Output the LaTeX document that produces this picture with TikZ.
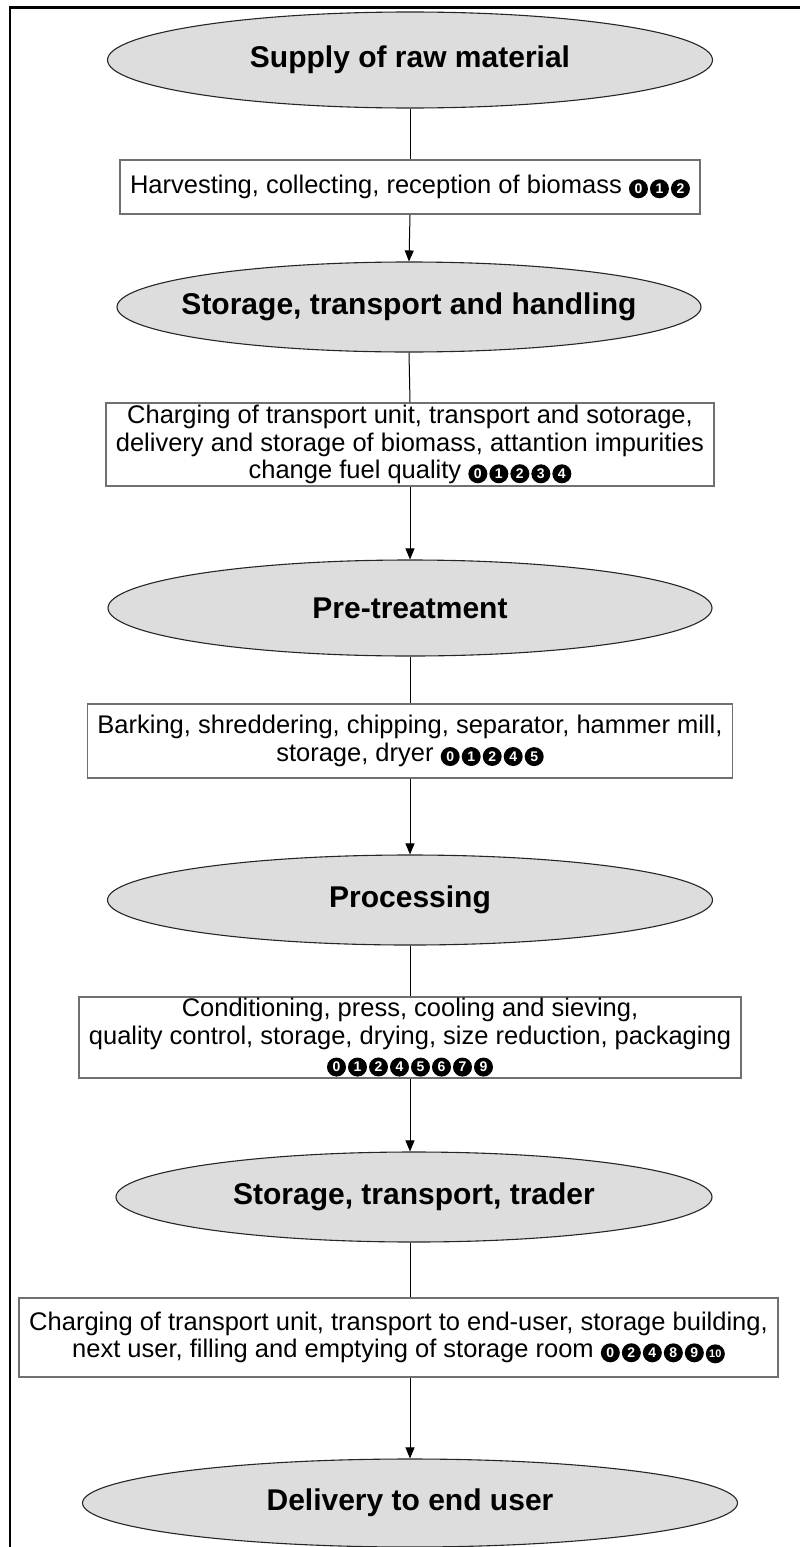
\documentclass[tikz,border=0pt]{standalone}
\usepackage{fontspec}
\setmainfont{Liberation Sans}
\usetikzlibrary{shapes.geometric,arrows.meta}
\definecolor{stagefill}{HTML}{DDDDDD}
\definecolor{boxline}{HTML}{707070}
% black disc with a white number, used as a reference mark
\newcommand\dg[1]{\tikz[baseline=(d.base)]\node[circle,draw=none,fill=black,text=white,inner sep=0pt,minimum size=19pt,font=\fontsize{14}{14}\selectfont\bfseries](d){#1};}
\newcommand\dgten{\tikz[baseline=(d.base)]\node[circle,draw=none,fill=black,text=white,inner sep=0pt,minimum size=19pt,font=\fontsize{11}{11}\selectfont\bfseries](d){10};}
\newcommand\gap{\kern2pt}
% stage titles take no width, so the ellipse keeps its own size
\newcommand\st[1]{\makebox[0pt][c]{#1}}
\begin{document}
\begin{tikzpicture}[x=1pt,y=-1pt,
  stage/.style={ellipse,draw=black!85,line width=1.1pt,fill=stagefill,
    font=\fontsize{30}{32}\selectfont\bfseries,inner sep=0pt},
  task/.style={rectangle,draw=boxline,line width=1.6pt,fill=white,align=center,
    font=\fontsize{25.5}{27.5}\selectfont,inner xsep=10pt,inner ysep=0pt},
  link/.style={draw=black,line width=1pt},
  flow/.style={link,-{Triangle[length=11pt,width=9pt]}}]
\useasboundingbox (0,0) rectangle (800,1547);
\clip (0,0) rectangle (800,1547);

% outer frame
\draw[line width=2.5pt] (10,1600) -- (10,7.5) -- (850,7.5);

% stages and tasks
\node[stage,minimum width=605pt,minimum height=96pt] (e1) at (410,60) {\st{Supply of raw material}};
\node[task,minimum height=54pt] (b1) at (410,187)
  {Harvesting, collecting, reception of biomass \dg{0}\gap\dg{1}\gap\dg{2}};
\node[stage,minimum width=584pt,minimum height=90pt] (e2) at (409,307) {\st{Storage, transport and handling}};
\node[task,minimum height=83pt] (b2) at (410,444.5)
  {Charging of transport unit, transport and sotorage,\\
   delivery and storage of biomass, attantion impurities\\
   change fuel quality \dg{0}\gap\dg{1}\gap\dg{2}\gap\dg{3}\gap\dg{4}};
\node[stage,minimum width=604pt,minimum height=96pt] (e3) at (410,608) {\st{Pre-treatment}};
\node[task,minimum height=74pt] (b3) at (410,741)
  {Barking, shreddering, chipping, separator, hammer mill,\\
   storage, dryer \dg{0}\gap\dg{1}\gap\dg{2}\gap\dg{4}\gap\dg{5}};
\node[stage,minimum width=605pt,minimum height=90pt] (e4) at (410,900) {\st{Processing}};
\node[task,minimum height=81pt] (b4) at (410,1037.5)
  {Conditioning, press, cooling and sieving,\\
   quality control, storage, drying, size reduction, packaging\\
   \dg{0}\gap\dg{1}\gap\dg{2}\gap\dg{4}\gap\dg{5}\gap\dg{6}\gap\dg{7}\gap\dg{9}};
\node[stage,minimum width=596pt,minimum height=90pt] (e5) at (414,1197) {\st{Storage, transport, trader}};
\node[task,minimum height=79pt] (b5) at (398.5,1337.5)
  {Charging of transport unit, transport to end-user, storage building,\\
   next user, filling and emptying of storage room \dg{0}\gap\dg{2}\gap\dg{4}\gap\dg{8}\gap\dg{9}\gap\dgten};
\node[stage,minimum width=655pt,minimum height=88pt] (e6) at (410,1503) {\st{Delivery to end user}};

% connectors
\draw[link] (e1.south) -- (b1.north);
\draw[flow] (b1.south) -- (e2.north);
\draw[link] (e2.south) -- (b2.north);
\draw[flow] (b2.south) -- (e3.north);
\draw[link] (e3.south) -- (b3.north);
\draw[flow] (b3.south) -- (e4.north);
\draw[link] (e4.south) -- (b4.north);
\draw[flow] (b4.south) -- (b4.south |- e5.north);
\draw[link] (b4.south |- e5.south) -- (b4.south |- b5.north);
\draw[flow] (b4.south |- b5.south) -- (e6.north);
\end{tikzpicture}
\end{document}
